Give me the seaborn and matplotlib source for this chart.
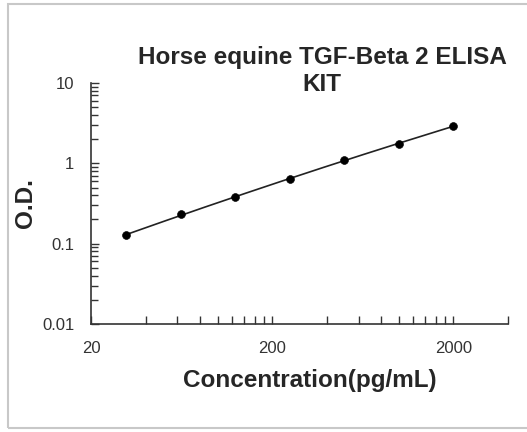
import matplotlib
matplotlib.use("Agg")
import matplotlib.pyplot as plt
import matplotlib.ticker as mticker
from matplotlib.patches import Rectangle
import numpy as np
import pandas as pd
import seaborn as sns

sns.set_theme(style="white")
plt.rcParams["font.family"] = ["Liberation Sans", "DejaVu Sans"]

# standard curve data
conc = [31.25, 62.5, 125, 250, 500, 1000, 2000]
od = [0.128, 0.231, 0.378, 0.645, 1.09, 1.76, 2.91]

x_major = [20, 200, 2000]
x_major_labels = ["20", "200", "2000"]
y_major = [0.01, 0.1, 1, 10]
y_major_labels = ["0.01", "0.1", "1", "10"]

df = pd.DataFrame({"conc": conc, "od": od})

# smooth fit in log-log space
coef = np.polyfit(np.log10(df["conc"]), np.log10(df["od"]), 2)
xs = np.logspace(np.log10(conc[0]), np.log10(conc[-1]), 200)
fit = pd.DataFrame({"conc": xs, "od": 10 ** np.polyval(coef, np.log10(xs))})

fig = plt.figure(figsize=(5.27, 4.32), dpi=100)
ax = fig.add_axes([91 / 527, 1 - 324 / 432, (508 - 91) / 527, (324 - 83) / 432])

sns.lineplot(data=fit, x="conc", y="od", ax=ax, color="#222222", linewidth=1.2)
sns.scatterplot(data=df, x="conc", y="od", ax=ax, color="black", s=32,
                edgecolor="black", zorder=3)

ax.set_xscale("log")
ax.set_yscale("log")
ax.set_xlim(20, 4000)
ax.set_ylim(0.01, 10)

# ticks
ax.xaxis.set_major_locator(mticker.FixedLocator(x_major))
ax.xaxis.set_major_formatter(mticker.FixedFormatter(x_major_labels))
minor_x = [m * d for d in (20, 200) for m in range(2, 10)] + [4000]
ax.xaxis.set_minor_locator(mticker.FixedLocator(minor_x))
ax.xaxis.set_minor_formatter(mticker.NullFormatter())
ax.yaxis.set_major_locator(mticker.FixedLocator(y_major))
ax.yaxis.set_major_formatter(mticker.FixedFormatter(y_major_labels))
ax.yaxis.set_minor_locator(mticker.LogLocator(base=10, subs=range(2, 10)))
ax.yaxis.set_minor_formatter(mticker.NullFormatter())

ax.tick_params(axis="both", which="both", bottom=True, left=True,
               direction="in", width=1, color="#333333")
ax.tick_params(axis="both", which="major", length=6, labelsize=12,
               labelcolor="#333333", pad=12)
ax.tick_params(axis="y", which="minor", length=5)
ax.tick_params(axis="x", which="minor", length=6)

sns.despine(ax=ax)
for side in ("left", "bottom"):
    ax.spines[side].set_color("#333333")
    ax.spines[side].set_linewidth(1.2)

ax.set_xlabel("Concentration(pg/mL)", fontsize=17.5, fontweight="bold")
ax.set_ylabel("O.D.", fontsize=17.5, fontweight="bold")
ax.xaxis.set_label_coords(0.525, -0.185)
ax.yaxis.set_label_coords(-0.13, 0.5)

fig.text(322 / 527, 1 - 71 / 432, "Horse equine TGF-Beta 2 ELISA\nKIT",
         ha="center", va="center", fontsize=17.5, fontweight="bold",
         linespacing=1.2)

# outer frame
fig.patches.append(Rectangle((8 / 527, 1 - 428 / 432), 530 / 527, 424 / 432,
                             transform=fig.transFigure, fill=False,
                             edgecolor="#c8c8c8", linewidth=1.5))

fig.savefig("out.png", dpi=100)
